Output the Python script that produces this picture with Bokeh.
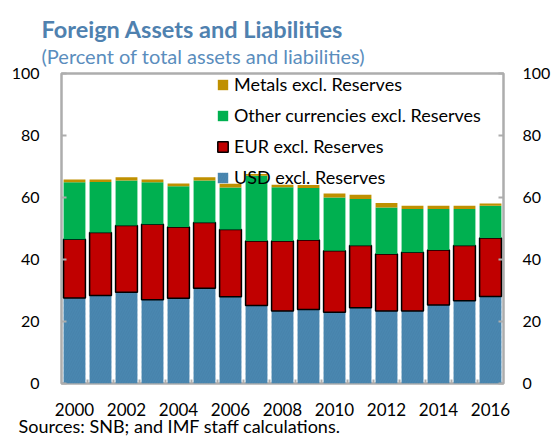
from bokeh.plotting import figure
from bokeh.models import Range1d, FixedTicker, LinearAxis, Title, Legend, LegendItem, ColumnDataSource
from bokeh.transform import stack
from bokeh.embed import file_html
from bokeh.resources import INLINE

years = list(range(2000, 2017))
usd = [27.6, 28.4, 29.4, 27.0, 27.5, 30.7, 28.0, 25.2, 23.4, 23.9, 23.0, 24.4, 23.4, 23.4, 25.3, 26.7, 28.1]
eur = [18.9, 20.3, 21.6, 24.4, 23.0, 21.2, 21.7, 20.8, 22.6, 22.4, 19.8, 20.1, 18.4, 18.9, 17.8, 17.8, 18.8]
other = [18.4, 16.3, 14.5, 13.5, 13.1, 13.6, 13.5, 21.0, 17.3, 16.8, 17.2, 15.0, 15.0, 14.0, 13.2, 11.8, 10.4]
metals = [0.9, 0.8, 1.0, 0.9, 0.9, 1.0, 1.2, 0.6, 0.8, 0.9, 1.3, 1.4, 1.4, 1.0, 1.0, 1.0, 0.8]
series_names = ["USD excl. Reserves", "EUR excl. Reserves",
                "Other currencies excl. Reserves", "Metals excl. Reserves"]
y_ticks = [0, 20, 40, 60, 80, 100]
x_tick_years = years[::2]
title_text = "Foreign Assets and Liabilities"
subtitle_text = "(Percent of total assets and liabilities)"
source_text = "Sources: SNB; and IMF staff calculations."

FONT = "Lato"
GRAY = "#ADADAD"

src = ColumnDataSource(dict(year=years, usd=usd, eur=eur, other=other, metals=metals))

p = figure(width=553, height=437, output_backend="svg", toolbar_location=None,
           x_range=Range1d(1999.5, 2016.5), y_range=Range1d(0, 100),
           min_border_left=61, min_border_right=48, min_border_top=73, min_border_bottom=54,
           title=None)
p.xgrid.visible = False
p.ygrid.visible = False
p.outline_line_color = GRAY
p.outline_line_width = 2.5
p.background_fill_color = "white"
p.border_fill_color = "white"

W = 0.84
r_usd = p.vbar(x="year", width=W, bottom=stack(), top=stack("usd"), source=src,
               fill_color="#4A87B0", line_color=None,
               hatch_pattern="/", hatch_color="#3E78A0", hatch_alpha=0.35,
               hatch_scale=5, hatch_weight=1)
r_eur = p.vbar(x="year", width=W, bottom=stack("usd"), top=stack("usd", "eur"), source=src,
               fill_color="#C00000", line_color="black", line_width=1.5)
r_oth = p.vbar(x="year", width=W, bottom=stack("usd", "eur"), top=stack("usd", "eur", "other"),
               source=src, fill_color="#00B050", line_color=None)
r_met = p.vbar(x="year", width=W, bottom=stack("usd", "eur", "other"),
               top=stack("usd", "eur", "other", "metals"), source=src,
               fill_color="#BF9000", line_color=None)

def style_axis(ax, size="16px"):
    ax.axis_line_color = None
    ax.major_label_text_font = FONT
    ax.major_label_text_font_size = size
    ax.major_label_text_color = "black"

xa = p.xaxis[0]
xa.ticker = FixedTicker(ticks=x_tick_years, minor_ticks=[y - 0.5 for y in years[1:]])
xa.major_tick_line_color = None
xa.minor_tick_line_color = GRAY
xa.minor_tick_line_width = 2
xa.minor_tick_in = 4
xa.minor_tick_out = 0
xa.major_label_standoff = 13
style_axis(xa, "17px")

ya = p.yaxis[0]
ya.ticker = FixedTicker(ticks=y_ticks)
ya.major_tick_line_color = GRAY
ya.major_tick_line_width = 2
ya.major_tick_in = 5
ya.major_tick_out = 0
ya.minor_tick_line_color = None
ya.major_label_standoff = 22
style_axis(ya)

ra = LinearAxis(ticker=FixedTicker(ticks=y_ticks))
ra.major_tick_line_color = GRAY
ra.major_tick_line_width = 2
ra.major_tick_in = 5
ra.major_tick_out = 0
ra.minor_tick_line_color = None
ra.major_label_standoff = 19
style_axis(ra)
p.add_layout(ra, "right")

legend = Legend(items=[LegendItem(label=series_names[3], renderers=[r_met]),
                       LegendItem(label=series_names[2], renderers=[r_oth]),
                       LegendItem(label=series_names[1], renderers=[r_eur]),
                       LegendItem(label=series_names[0], renderers=[r_usd])],
                location=(155, 195), background_fill_alpha=0, border_line_color=None,
                glyph_width=13, glyph_height=13, label_height=22, spacing=9,
                padding=0, margin=0, label_standoff=5,
                label_text_font=FONT, label_text_font_size="18px", label_text_color="black")
p.add_layout(legend)

p.add_layout(Title(text=subtitle_text, align="left", offset=-20, standoff=12,
                   text_font=FONT, text_font_style="normal", text_font_size="20px",
                   text_color="#5A8DBD"), "above")
p.add_layout(Title(text=title_text, align="left", offset=-20, standoff=-15,
                   text_font=FONT, text_font_style="bold", text_font_size="23.5px",
                   text_color="#4F81AF"), "above")
p.add_layout(Title(text=source_text, align="left", offset=-43, standoff=-12,
                   text_font=FONT, text_font_style="normal", text_font_size="18px",
                   text_color="black"), "below")

open("out.html", "w").write(file_html(p, INLINE))
